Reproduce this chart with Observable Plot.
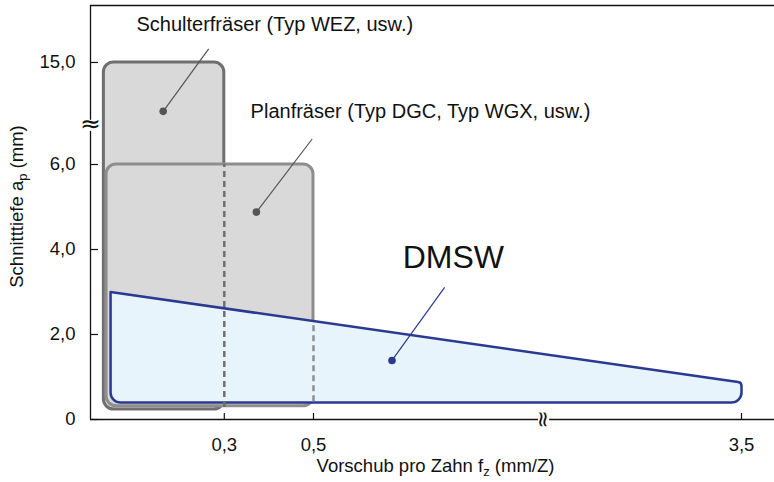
<!DOCTYPE html>
<html>
<head>
<meta charset="utf-8">
<script src="https://cdn.jsdelivr.net/npm/d3@7"></script>
<script src="https://cdn.jsdelivr.net/npm/@observablehq/plot@0.6"></script>
<style>
  html, body { margin: 0; padding: 0; background: #ffffff; }
  #chart svg { display: block; }
</style>
</head>
<body>
<div id="chart"></div>
<script>
// ---- data ----
const xTicks = [0.3, 0.5, 3.5];
const yTicks = [0, 2, 4, 6, 15];

// broken axes (piecewise scales)
const xDomain = [0, 1.0, 3.063, 3.5, 3.574];
const yDomain = [0, 6.9, 13.6, 16.34];
const xBreak = 2.44;
const xBreakGap = [1.4, 3.07];
const yBreak = 10;
const yBreakGap = [6.78, 13.64];

// tool regions (fz range, ap range)
const regionNames = ["Schulterfräser", "Planfräser"];
const regionFz1 = [0.03, 0.036];
const regionFz2 = [0.3, 0.5];
const regionAp1 = [0.235, 0.31];
const regionAp2 = [15.0, 6.0];

// DMSW region polygon
const dmswFz = [0.045, 3.5, 3.5, 0.045];
const dmswAp = [3.0, 0.87, 0.4, 0.4];
const dmswAtPlanEdge = 2.31;

// annotations
const labelTexts = ["Schulterfräser (Typ WEZ, usw.)", "Planfräser (Typ DGC, Typ WGX, usw.)", "DMSW"];
const labelFz = [0.103, 0.359, 0.70];
const labelAp = [15.73, 13.70, 3.576];
const dotFz = [0.163, 0.372, 0.676];
const dotAp = [13.85, 4.88, 1.39];
const leaderFz = [0.265, 0.497, 0.794];
const leaderAp = [15.32, 6.6, 3.11];

const xTitle = "Vorschub pro Zahn fz (mm/Z)";
const yTitle = "Schnitttiefe ap (mm)";

// ---- helpers ----
const fmt = d => d === 0 ? "0" : d.toFixed(1).replace(".", ",");

function roundedPolygon(radii) {
  return (context) => {
    let pts = [];
    return {
      areaStart() {}, areaEnd() {},
      lineStart() { pts = []; },
      point(x, y) { pts.push([+x, +y]); },
      lineEnd() {
        const n = pts.length; if (!n) return;
        const a = pts[n - 1], b = pts[0];
        context.moveTo((a[0] + b[0]) / 2, (a[1] + b[1]) / 2);
        for (let i = 0; i < n; i++) {
          const p = pts[i], q = pts[(i + 1) % n];
          const r = radii[i] || 0;
          if (r > 0) context.arcTo(p[0], p[1], q[0], q[1], r);
          else context.lineTo(p[0], p[1]);
        }
        context.closePath();
      }
    };
  };
}

const W = 774, H = 482;
const ML = 90, MT = 5, MB = 63;
const pxPerX = 446, pxPerY = 42.5;
const yBottom = H - MB; // 419
const xRange = [ML, ML + pxPerX * 1.0, 546, 741, W];
const yRange = [yBottom, yBottom - pxPerY * yDomain[1], 62 + pxPerY * (15 - yDomain[2]), MT];

const navy = "#2b3990";
const ink = "#111111";
const idx = a => a.map((_, i) => i);
const xMax = xDomain[xDomain.length - 1];
const yMax = yDomain[yDomain.length - 1];

const chart = Plot.plot({
  width: W,
  height: H,
  marginLeft: ML,
  marginRight: 0,
  marginTop: MT,
  marginBottom: MB,
  style: { fontFamily: "'Liberation Sans', Arial, sans-serif", fontSize: "18.5px", color: ink, background: "#fff" },
  x: { type: "linear", domain: xDomain, range: xRange },
  y: { type: "linear", domain: yDomain, range: yRange },
  marks: [
    // Schulterfräser region
    Plot.rect([0], { x1: i => regionFz1[i], x2: i => regionFz2[i], y1: i => regionAp1[i], y2: i => regionAp2[i],
      fill: "#d9d9d9", stroke: "#6f6f6f", strokeWidth: 3, rx: 10, ry: 10 }),
    // Planfräser region
    Plot.rect([1], { x1: i => regionFz1[i], x2: i => regionFz2[i], y1: i => regionAp1[i], y2: i => regionAp2[i],
      fill: "#d9d9d9", stroke: "#8e8e8e", strokeWidth: 3, rx: 10, ry: 10 }),
    // Schulter right edge hidden behind Planfräser -> dashed
    Plot.ruleX([regionFz2[0]], { y1: regionAp1[0] + 0.05, y2: regionAp2[1], stroke: "#6f6f6f", strokeWidth: 2.5, strokeDasharray: "6,4" }),
    // DMSW region
    Plot.line(idx(dmswFz), { x: i => dmswFz[i], y: i => dmswAp[i], curve: roundedPolygon([0, 4, 10, 10]),
      fill: "#e8f4fc", stroke: navy, strokeWidth: 2.5, strokeLinejoin: "round" }),
    // hidden edges inside DMSW -> dashed
    Plot.ruleX([regionFz2[0]], { y1: regionAp1[0] + 0.05, y2: dmswAp[0] - 0.45, stroke: "#6f6f6f", strokeWidth: 2.5, strokeDasharray: "6,4" }),
    Plot.ruleX([regionFz2[1]], { y1: dmswAp[2] + 0.02, y2: dmswAtPlanEdge - 0.05, stroke: "#8e8e8e", strokeWidth: 2.5, strokeDasharray: "6,4" }),
    // frame
    Plot.ruleX([0], { y1: 0, y2: yMax, stroke: ink, strokeWidth: 1.3 }),
    Plot.ruleY([0], { x1: 0, x2: xMax, stroke: ink, strokeWidth: 1.3 }),
    Plot.ruleY([yMax], { x1: 0, x2: xMax, stroke: ink, strokeWidth: 1.3 }),
    // inward ticks
    Plot.ruleY(yTicks, { x1: 0, x2: 8 / pxPerX, stroke: ink, strokeWidth: 1.2 }),
    Plot.ruleX(xTicks, { y1: 0, y2: 6 / pxPerY, stroke: ink, strokeWidth: 1.2 }),
    // tick labels
    Plot.axisY({ ticks: yTicks, tickSize: 0, tickPadding: 15, tickFormat: fmt, label: null, fontSize: 18.5, fill: ink }),
    Plot.axisX({ ticks: xTicks, tickSize: 0, tickPadding: 18, tickFormat: fmt, label: null, fontSize: 18.5, fill: ink }),
    // axis breaks
    Plot.ruleX([0], { y1: yBreakGap[0], y2: yBreakGap[1], stroke: "#fff", strokeWidth: 4 }),
    Plot.ruleY([0], { x1: xBreakGap[0], x2: xBreakGap[1], stroke: "#fff", strokeWidth: 4 }),
    Plot.text([yBreak], { x: 0, y: d => d, text: () => "≈", fontFamily: "DejaVu Sans", fontSize: 25, fill: ink }),
    Plot.text([xBreak], { x: d => d, y: 0, text: () => "≈", rotate: 90, fontFamily: "DejaVu Sans", fontSize: 22, fill: ink }),
    // axis titles
    Plot.text([xTitle], { frameAnchor: "bottom", text: d => d, textAnchor: "middle", lineAnchor: "middle", dx: 3, dy: 47, fontSize: 18.5, fill: ink }),
    Plot.text([yTitle], { frameAnchor: "left", text: d => d, textAnchor: "middle", lineAnchor: "middle", rotate: -90, dx: -73, dy: -6, fontSize: 18.5, fill: ink }),
    // leader lines and dots
    Plot.link(idx(dotFz), { x1: i => dotFz[i], y1: i => dotAp[i], x2: i => leaderFz[i], y2: i => leaderAp[i],
      stroke: i => i === 2 ? navy : "#555555", strokeWidth: 1.2 }),
    Plot.dot(idx(dotFz), { x: i => dotFz[i], y: i => dotAp[i], r: 3.8, fill: i => i === 2 ? navy : "#555555", stroke: "none" }),
    // labels
    Plot.text([0, 1], { x: i => labelFz[i], y: i => labelAp[i], text: i => labelTexts[i], textAnchor: "start", lineAnchor: "bottom", fontSize: 20, fill: ink }),
    Plot.text([2], { x: i => labelFz[i], y: i => labelAp[i], text: i => labelTexts[i], textAnchor: "start", lineAnchor: "bottom", fontSize: 32, fill: ink })
  ],
  color: { type: "identity" }
});

// subscripts (f_z and a_p)
d3.select(chart).selectAll("text").each(function () {
  const t = this.textContent;
  let base, sub, rest;
  if (t === xTitle) { base = "Vorschub pro Zahn f"; sub = "z"; rest = " (mm/Z)"; }
  else if (t === yTitle) { base = "Schnitttiefe a"; sub = "p"; rest = " (mm)"; }
  else return;
  const el = d3.select(this);
  el.text(null);
  el.append("tspan").text(base);
  el.append("tspan").attr("font-size", "13px").attr("dy", "4").text(sub);
  el.append("tspan").attr("dy", "-4").text(rest);
});

document.getElementById("chart").appendChild(chart);
</script>
</body>
</html>
